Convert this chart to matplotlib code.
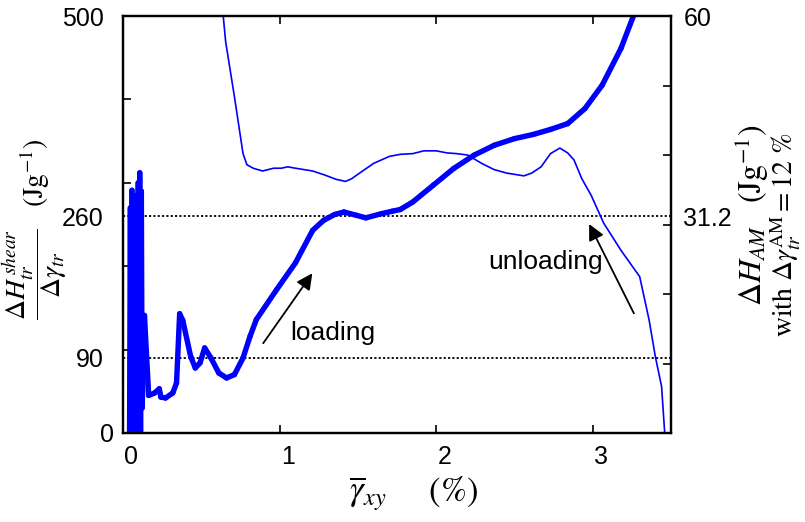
import numpy as np
import matplotlib
matplotlib.use('Agg')
import matplotlib.pyplot as plt
import matplotlib.transforms as mtransforms
from matplotlib.collections import LineCollection

plt.rcParams['font.family'] = ['Liberation Sans', 'DejaVu Sans']
plt.rcParams['mathtext.fontset'] = 'stix'
plt.rcParams['path.simplify'] = False

# thick curve (left axis): loading
load_x = [0.040, 0.045, 0.050, 0.055, 0.060, 0.065, 0.070, 0.075, 0.080, 0.085,
          0.090, 0.095, 0.100, 0.105, 0.110, 0.115, 0.120, 0.125, 0.135, 0.162,
          0.200, 0.230, 0.240, 0.270, 0.316, 0.340, 0.360, 0.380, 0.430, 0.460,
          0.490, 0.520, 0.560, 0.610, 0.660, 0.710, 0.765, 0.810, 0.850, 0.980,
          1.100, 1.210, 1.280, 1.350, 1.410, 1.490, 1.550, 1.650, 1.720, 1.770,
          1.850, 1.980, 2.110, 2.240, 2.370, 2.500, 2.620, 2.730, 2.840, 2.950,
          3.060, 3.180, 3.260]
load_y = [0, 270, 0, 291, 5, 275, 0, 282, 0, 285,
          0, 300, 0, 312, 0, 290, 30, 60, 141, 45,
          48, 53, 43, 42, 48, 60, 143, 135, 92, 78,
          84, 102, 90, 72, 66, 70, 90, 116, 136, 172,
          204, 243, 255, 262, 265, 261, 258, 263, 266, 268,
          277, 297, 317, 333, 345, 353, 358, 364, 371, 389,
          417, 461, 500]

# thin curve (right axis): unloading
unload_x = [0.630, 0.654, 0.710, 0.765, 0.790, 0.830, 0.890, 0.960, 1.010, 1.050,
            1.100, 1.210, 1.290, 1.360, 1.420, 1.460, 1.510, 1.600, 1.700, 1.770,
            1.850, 1.920, 2.000, 2.070, 2.130, 2.200, 2.290, 2.370, 2.450, 2.560,
            2.610, 2.670, 2.730, 2.790, 2.840, 2.880, 2.930, 2.990, 3.070, 3.180,
            3.300, 3.360, 3.400, 3.440, 3.460]
unload_y = [62.0, 56.3, 48.4, 40.2, 38.6, 38.1, 37.7, 38.1, 38.1, 38.3,
            38.1, 37.7, 37.1, 36.5, 36.2, 36.6, 37.4, 38.8, 39.8, 40.1,
            40.2, 40.6, 40.6, 40.3, 40.2, 40.0, 38.8, 37.9, 37.4, 37.0,
            37.4, 38.3, 40.2, 41.0, 40.3, 39.3, 36.6, 34.2, 30.2, 26.3,
            22.5, 16.3, 11.0, 6.7, 0.0]

left_ticks = [0, 90, 260, 500]
right_ticks = [31.2, 60]
right_labels = ['31.2', '60']

fig = plt.figure(figsize=(8.05, 5.22), dpi=100)
ax = fig.add_axes([0.1532, 0.1705, 0.6803, 0.7988])
ax2 = ax.twinx()

# thick curve drawn segment by segment so the overlapping spikes fill solid
pts = np.column_stack([load_x, load_y])
segs = np.stack([pts[:-1], pts[1:]], axis=1)
lc = LineCollection(segs, colors='#0000ff', linewidths=3.9, capstyle='round',
                    joinstyle='round', zorder=3)
ax.add_collection(lc)
ax2.plot(unload_x, unload_y, color='#0000ff', lw=1.2)

for v in [90, 260]:
    ax.axhline(v, color='k', ls=(0, (1.2, 1.2)), lw=1.3)

ax.set_xlim(0, 3.5)
ax.set_ylim(0, 500)
ax2.set_ylim(0, 60)

ax.set_xticks([0, 1, 2, 3])
ax.set_yticks(left_ticks)
ax.set_yticks(np.arange(0, 501, 100), minor=True)
ax2.set_yticks(right_ticks, right_labels)
ax2.set_yticks(np.arange(0, 61, 10), minor=True)

ax.tick_params(axis='x', which='major', direction='in', length=6, width=1.2,
               labelsize=18, pad=9, top=True)
ax.tick_params(axis='y', which='major', length=0, labelsize=18, pad=14)
ax.tick_params(axis='y', which='minor', direction='in', length=6, width=1.2)
ax2.tick_params(axis='y', which='major', length=0, labelsize=18, pad=9)
ax2.tick_params(axis='y', which='minor', direction='in', length=6, width=1.2)

for a in (ax, ax2):
    for s in a.spines.values():
        s.set_linewidth(1.6)

# small label offsets as in the original export
shift = mtransforms.ScaledTranslation(8 / 100, 0, fig.dpi_scale_trans)
for lab in ax.get_xticklabels():
    lab.set_transform(lab.get_transform() + shift)
for lab in ax.get_yticklabels():
    if lab.get_text() == '0':
        lab.set_transform(lab.get_transform() + mtransforms.ScaledTranslation(10 / 100, 0, fig.dpi_scale_trans))

arrow = dict(arrowstyle='-|>', mutation_scale=24, lw=1.3, color='k', shrinkA=0, shrinkB=0)
ax.annotate('', xy=(1.208, 191.5), xytext=(0.894, 107.6), arrowprops=arrow)
ax.annotate('', xy=(2.977, 250.6), xytext=(3.263, 143.5), arrowprops=arrow)
ax.text(1.338, 120, 'loading', fontsize=19, ha='center', va='center')
ax.text(2.70, 205, 'unloading', fontsize=19, ha='center', va='center')

fig.text(414 / 805, 1 - 494 / 522, r'$\overline{\gamma}_{xy}\quad\ \ (\%)$',
         fontsize=25, ha='center', va='center')
fig.text(35 / 805, 1 - 229 / 522,
         r'$\dfrac{\Delta H_{tr}^{\,shear}}{\Delta\gamma_{tr}}\quad(\mathrm{Jg}^{-1})$',
         fontsize=20, rotation=90, ha='center', va='center')
fig.text(752 / 805, 1 - 215 / 522, r'$\Delta H_{AM}\quad(\mathrm{Jg}^{-1})$',
         fontsize=23, rotation=90, ha='center', va='center')
fig.text(786 / 805, 1 - 235 / 522, r'$\mathrm{with}\ \Delta\gamma_{tr}^{\mathrm{AM}}=12\ \%$',
         fontsize=20, rotation=90, ha='center', va='center')

fig.savefig('out.png', dpi=100)
